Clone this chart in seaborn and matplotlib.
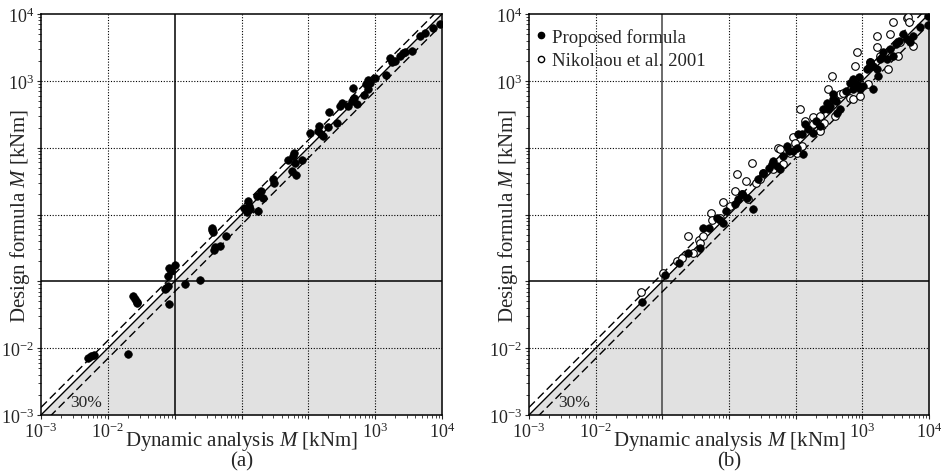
import numpy as np
import pandas as pd
import seaborn as sns
import matplotlib.pyplot as plt
from matplotlib.ticker import FixedLocator, FixedFormatter, LogLocator, NullFormatter
from matplotlib.lines import Line2D

# points, kept as log10 of the moment
a_dyn_log = [-2.30, -2.25, -2.20, -1.70, -1.62, -1.59, -1.56, -1.57, -1.08,
             -1.15, -1.125, -1.10, -1.09, -1.10, -1.05, -1.00, -0.85, -0.615,
             -0.435, -0.425, -0.435, -0.415, -0.40, -0.315, -0.235,
             0.04, 0.09, 0.11, 0.075, 0.125, 0.25, 0.225, 0.285, 0.315,
             0.475, 0.485, 0.70, 0.765, 0.785, 0.80, 0.75, 0.815, 0.91,
             1.025, 1.15, 1.165, 1.185, 1.225, 1.31, 1.30, 1.425,
             1.475, 1.50, 1.60, 1.65, 1.685, 1.675, 1.725, 1.835,
             1.865, 1.90, 1.925, 2.00, 2.165, 1.90,
             2.215, 2.25, 2.30, 2.375, 2.415, 2.45, 2.55,
             2.665, 2.75, 2.865, 2.975]
a_des_log = [-2.14, -2.12, -2.10, -2.08, -1.22, -1.27, -1.31, -1.33, -1.34,
             -1.115, -1.10, -1.065, -0.80, -0.915, -0.85, -0.75, -1.035, -0.985,
             -0.20, -0.265, -0.235, -0.525, -0.485, -0.465, -0.325,
             0.10, 0.20, 0.125, 0.04, 0.075, 0.05, 0.275, 0.35, 0.25,
             0.525, 0.465, 0.81, 0.875, 0.925, 0.765, 0.65, 0.595, 0.815,
             1.215, 1.25, 1.325, 1.20, 1.175, 1.54, 1.315, 1.375,
             1.625, 1.665, 1.625, 1.70, 1.75, 1.90, 1.65, 1.785,
             1.95, 2.015, 1.975, 2.035, 2.09, 1.885,
             2.335, 2.275, 2.30, 2.375, 2.415, 2.435, 2.45,
             2.665, 2.715, 2.785, 2.85]

b_prop_dyn_log = [-1.30, -0.96, -0.745, -0.61, -0.435, -0.385, -0.185, -0.135, -0.085,
                  0.09, 0.14, 0.265, 0.365, 0.44, 0.515, 0.64, 0.665, 0.715, 0.765,
                  0.815, 0.865, 0.965, 1.015, 1.105, 1.04, 1.14, 1.19, 1.265, 1.365,
                  1.415, 1.465, 1.49, 1.515, 1.565, 1.565, 1.615, 1.665, 1.815, 1.865,
                  1.865, 1.915, 1.965, 2.015, 2.165, 2.065, 2.115, 2.165, 2.215, 2.24,
                  2.265, 2.315, 2.365, 2.415, 2.465, 2.615, 2.665, 2.715, 2.765, 2.865,
                  2.98, 2.98, -0.30, -0.05, 0.20, 0.60, 0.90, 1.10, 1.30, 1.60, 1.75,
                  1.95, 2.10, 2.30, 2.50, 2.55]
b_prop_des_log = [-1.31, -0.90, -0.725, -0.575, -0.50, -0.20, -0.05, -0.075, -0.125,
                  0.15, 0.235, 0.25, 0.075, 0.525, 0.625, 0.75, 0.80, 0.725, 0.675,
                  0.875, 1.025, 0.95, 1.00, 0.90, 1.20, 1.35, 1.275, 1.225, 1.325,
                  1.575, 1.675, 1.575, 1.625, 1.725, 1.80, 1.525, 1.575, 1.975, 2.025,
                  1.875, 1.95, 1.875, 1.925, 1.875, 2.175, 2.275, 2.225, 2.175, 2.075,
                  2.325, 2.425, 2.325, 2.475, 2.375, 2.70, 2.625, 2.575, 2.675, 2.80,
                  2.965, 2.835, -0.20, 0.05, 0.30, 0.70, 0.95, 1.20, 1.40, 1.70, 1.85,
                  2.05, 2.20, 2.35, 2.55, 2.60]

b_nik_dyn_log = [-1.325, -0.985, -0.785, -0.71, -0.61, -0.535, -0.445, -0.435, -0.395,
                 -0.275, -0.26, -0.135, -0.085, 0.015, 0.09, 0.125, 0.19, 0.255, 0.29,
                 0.34, 0.405, 0.465, 0.515, 0.665, 0.74, 0.765, 0.815, 0.915, 0.965,
                 0.99, 1.015, 1.065, 1.09, 1.14, 1.255, 1.265, 1.365, 1.365, 1.425,
                 1.49, 1.54, 1.59, 1.665, 1.715, 1.815, 1.865, 1.89, 1.915, 1.965,
                 2.09, 2.115, 2.215, 2.215, 2.265, 2.39, 2.415, 2.455, 2.54, 2.565,
                 2.665, 2.69, 2.705, 2.755]
b_nik_des_log = [-1.16, -0.875, -0.70, -0.65, -0.325, -0.575, -0.375, -0.425, -0.325,
                 0.015, -0.075, -0.05, 0.185, 0.125, 0.35, 0.60, 0.30, 0.50, 0.225,
                 0.775, 0.475, 0.525, 0.625, 0.675, 1.00, 0.975, 0.75, 0.925, 1.16,
                 1.075, 0.925, 1.585, 1.025, 1.40, 1.465, 1.35, 1.25, 1.475, 1.375,
                 1.875, 2.075, 1.475, 1.80, 1.825, 1.75, 1.735, 2.225, 2.425, 1.775,
                 1.95, 2.275, 2.675, 2.50, 2.375, 2.175, 2.70, 2.885, 2.375, 2.575,
                 2.935, 2.95, 2.885, 2.525]

decades = [1e-3, 1e-2, 1e-1, 1e0, 1e1, 1e2, 1e3]
tick_text = ['$10^{-3}$', '$10^{-2}$', '', '', '', '$10^{3}$', '$10^{4}$']
band = 0.3
lim = np.array([1e-3, 1e3])

sns.set_theme(style="white")
plt.rcParams['font.family'] = ['Liberation Serif', 'DejaVu Serif']
plt.rcParams['mathtext.fontset'] = 'custom'
plt.rcParams['mathtext.rm'] = 'Liberation Serif'
plt.rcParams['mathtext.it'] = 'Liberation Serif:italic'

fig = plt.figure(figsize=(9.41, 4.77), dpi=100)
ax_a = fig.add_axes([41 / 941, 61 / 477, 401 / 941, 401 / 477])
ax_b = fig.add_axes([529 / 941, 61 / 477, 400 / 941, 401 / 477])


def frame(ax, cross_color):
    ax.set_xscale('log')
    ax.set_yscale('log')
    ax.set_xlim(lim)
    ax.set_ylim(lim)
    ax.fill_between(lim, [lim[0], lim[0]], lim, color='#e1e1e1', lw=0, zorder=0)
    for d in decades[1:-1]:
        if d == 1e-1:
            ax.axvline(d, color=cross_color, lw=1.1, zorder=1)
            ax.axhline(d, color='black', lw=1.1, zorder=1)
        else:
            ax.axvline(d, color='black', lw=0.8, ls=(0, (1, 1.5)), zorder=1)
            ax.axhline(d, color='black', lw=0.8, ls=(0, (1, 1.5)), zorder=1)
    ax.plot(lim, lim, color='black', lw=1.0, zorder=2)
    ax.plot(lim, lim * (1 + band), color='black', lw=1.0, dashes=(6, 3), zorder=2)
    ax.plot(lim, lim * (1 - band), color='black', lw=1.0, dashes=(6, 3), zorder=2)
    ax.text(10 ** -2.33, 10 ** -2.81, '30%', fontsize=12.5, ha='center', va='center')
    for axis in (ax.xaxis, ax.yaxis):
        axis.set_major_locator(FixedLocator(decades))
        axis.set_major_formatter(FixedFormatter(tick_text))
        axis.set_minor_locator(LogLocator(base=10, subs=np.arange(2, 10), numticks=20))
        axis.set_minor_formatter(NullFormatter())
    ax.tick_params(which='major', direction='out', length=3, width=0.8, labelsize=13, pad=2,
                   bottom=True, left=True)
    ax.tick_params(which='minor', direction='out', length=2, width=0.6, bottom=True, left=True)
    for s in ax.spines.values():
        s.set_color('black')
        s.set_linewidth(1.1)


frame(ax_a, 'black')
frame(ax_b, '#444444')

df_a = pd.DataFrame({'dyn': np.power(10.0, a_dyn_log), 'des': np.power(10.0, a_des_log)})
sns.scatterplot(data=df_a, x='dyn', y='des', ax=ax_a, color='black', s=30,
                edgecolor='black', linewidth=0.5, zorder=3, legend=False)

df_nik = pd.DataFrame({'dyn': np.power(10.0, b_nik_dyn_log), 'des': np.power(10.0, b_nik_des_log)})
df_prop = pd.DataFrame({'dyn': np.power(10.0, b_prop_dyn_log), 'des': np.power(10.0, b_prop_des_log)})
sns.scatterplot(data=df_nik, x='dyn', y='des', ax=ax_b, color='white', s=30,
                edgecolor='black', linewidth=0.8, zorder=3, legend=False)
sns.scatterplot(data=df_prop, x='dyn', y='des', ax=ax_b, color='black', s=30,
                edgecolor='black', linewidth=0.5, zorder=4, legend=False)

for ax in (ax_a, ax_b):
    ax.set_xlabel('Dynamic analysis $M$ [kNm]', fontsize=15)
    ax.set_ylabel('Design formula $M$ [kNm]', fontsize=15)
    ax.xaxis.set_label_coords(0.5, -0.035)
    ax.yaxis.set_label_coords(-0.022, 0.5)

handles = [Line2D([], [], marker='o', ls='', color='black', markersize=4.5),
           Line2D([], [], marker='o', ls='', markerfacecolor='white',
                  markeredgecolor='black', markersize=4.5)]
ax_b.legend(handles, ['Proposed formula', 'Nikolaou et al. 2001'], loc='upper left',
            bbox_to_anchor=(0.0, 0.975), frameon=False, fontsize=13.5,
            handletextpad=0.15, handlelength=0.9, labelspacing=0.35,
            borderaxespad=0.0, borderpad=0.2)

fig.text(242 / 941, 1 - 462 / 477, '(a)', fontsize=15, ha='center', va='center')
fig.text(729 / 941, 1 - 462 / 477, '(b)', fontsize=15, ha='center', va='center')

fig.savefig('out.png', dpi=100)
